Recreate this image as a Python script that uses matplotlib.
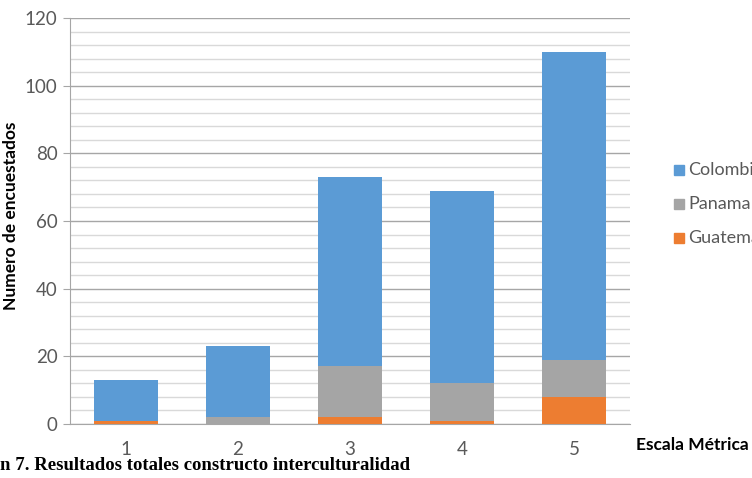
import numpy as np
import matplotlib.pyplot as plt
from matplotlib.ticker import MultipleLocator

categories = ['1', '2', '3', '4', '5']
guatemala = [1, 0, 2, 1, 8]
panama = [0, 2, 15, 11, 11]
colombia = [12, 21, 56, 57, 91]

plt.rcParams['font.family'] = ['Lato', 'DejaVu Sans']

fig = plt.figure(figsize=(7.52, 4.78), dpi=100)
ax = fig.add_axes([0.0931, 0.113, 0.7447, 0.8493])

x = np.arange(len(categories))
g = np.array(guatemala)
p = np.array(panama)
c = np.array(colombia)
w = 0.57
ax.bar(x, g, w, color='#ED7D31', label='Guatemala', zorder=3)
ax.bar(x, p, w, bottom=g, color='#A5A5A5', label='Panama', zorder=3)
ax.bar(x, c, w, bottom=g + p, color='#5B9BD5', label='Colombia', zorder=3)

ax.set_xlim(-0.5, 4.5)
ax.set_ylim(0, 120)
ax.yaxis.set_major_locator(MultipleLocator(20))
ax.yaxis.set_minor_locator(MultipleLocator(4))
ax.grid(which='major', axis='y', color='#a6a6a6', linewidth=1, zorder=0)
ax.grid(which='minor', axis='y', color='#d9d9d9', linewidth=1, zorder=0)
ax.set_xticks(x)
ax.set_xticklabels(categories)
ax.tick_params(axis='x', length=0, pad=12, labelsize=13.5, labelcolor='#595959')
ax.tick_params(axis='y', which='major', length=5, color='#a6a6a6', pad=4,
               labelsize=13.5, labelcolor='#595959')
ax.tick_params(axis='y', which='minor', length=0)
for s in ['top', 'right']:
    ax.spines[s].set_visible(False)
ax.spines['left'].set_color('#a6a6a6')
ax.spines['bottom'].set_color('#a6a6a6')

fig.text(0.014, 0.548, 'Numero de encuestados', rotation=90, ha='center', va='center',
         fontsize=12.5, fontweight='bold', color='#000000')
fig.text(0.846, 0.069, 'Escala Métrica', ha='left', va='center',
         fontsize=12.5, fontweight='bold')
fig.text(0.0, 0.027, 'n 7. Resultados totales constructo interculturalidad', ha='left',
         va='center', fontsize=13.5, fontweight='bold', family='Liberation Serif')

# legend, cut at the figure edge like the original
names = ['Colombia', 'Panama', 'Guatemala']
cols = ['#5B9BD5', '#A5A5A5', '#ED7D31']
ys = [170, 204, 238]
for n, col, yy in zip(names, cols, ys):
    fy = 1 - yy / 478
    fig.patches.append(plt.Rectangle((674 / 752, fy - 0.0105), 10 / 752, 10 / 478,
                                     transform=fig.transFigure, color=col))
    fig.text(688 / 752, fy, n, ha='left', va='center', fontsize=13, color='#595959')

fig.savefig('out.png', dpi=100)
